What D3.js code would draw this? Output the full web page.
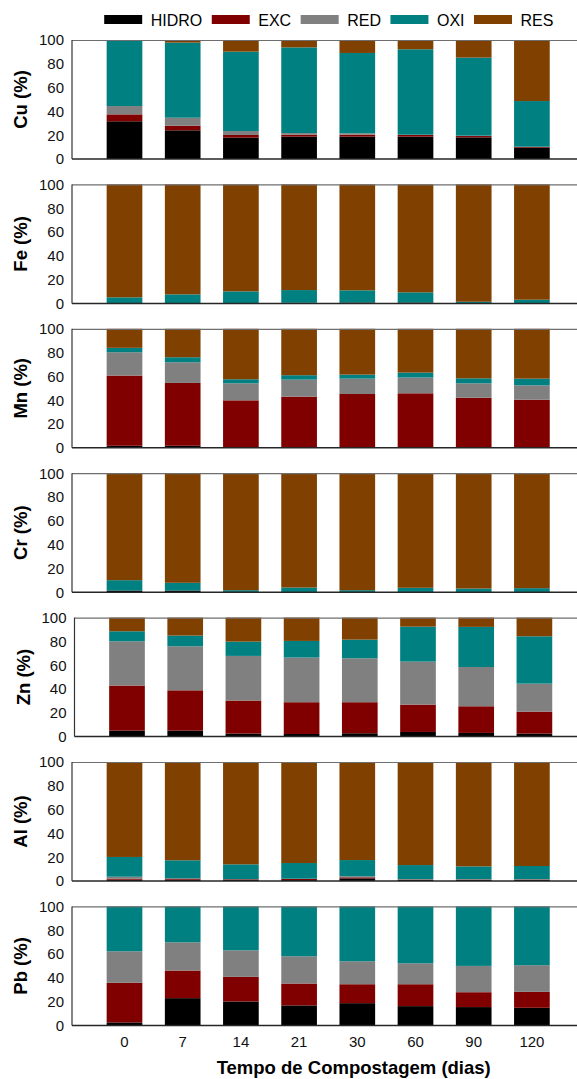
<!DOCTYPE html>
<html>
<head>
<meta charset="utf-8">
<script src="https://cdn.jsdelivr.net/npm/d3@7/dist/d3.min.js"></script>
<style>
  html, body { margin: 0; padding: 0; background: #fff; }
  svg { display: block; font-family: 'Liberation Sans', Arial, sans-serif; }
</style>
</head>
<body>
<div id="chart"></div>
<script>
// composting days on the x axis
var categories = ['0', '7', '14', '21', '30', '60', '90', '120'];
var fractions = ['HIDRO', 'EXC', 'RED', 'OXI', 'RES'];
var fractionColors = ['#000000', '#800000', '#808080', '#008080', '#804000'];
var yTicks = [0, 20, 40, 60, 80, 100];
var metals = ['Cu', 'Fe', 'Mn', 'Cr', 'Zn', 'Al', 'Pb'];

// % of each fraction, per day
var cu = {
  HIDRO: [31.7, 24.1, 17.9, 18.8, 18.8, 18.8, 18.2, 9.5],
  EXC:   [5.8, 3.9, 2.3, 1.6, 1.6, 1.4, 1.1, 0.6],
  RED:   [7.0, 6.7, 3.3, 1.4, 1.2, 0.2, 0.3, 0.2],
  OXI:   [55.5, 63.1, 66.7, 72.0, 67.5, 71.8, 65.6, 38.4],
  RES:   [0.0, 2.2, 9.8, 6.2, 10.9, 7.8, 14.8, 51.3]
};
var fe = {
  HIDRO: [0.3, 0.2, 0.2, 0.5, 0.8, 0.8, 0.2, 0.2],
  EXC:   [0, 0, 0, 0, 0, 0, 0, 0],
  RED:   [0, 0, 0, 0, 0, 0, 0, 0],
  OXI:   [4.8, 7.4, 9.9, 10.7, 10.2, 8.5, 1.2, 2.9],
  RES:   [94.9, 92.4, 89.9, 88.8, 89.0, 90.7, 98.6, 96.9]
};
var mn = {
  HIDRO: [1.7, 1.7, 0.3, 0.3, 0.3, 0.3, 0.3, 0.3],
  EXC:   [59.0, 52.8, 39.6, 42.7, 44.9, 45.5, 41.8, 40.1],
  RED:   [19.6, 17.4, 14.3, 14.3, 12.9, 13.2, 12.1, 12.1],
  OXI:   [3.7, 4.2, 3.4, 3.7, 3.4, 4.2, 4.2, 5.6],
  RES:   [16.0, 23.9, 42.4, 39.0, 38.5, 36.8, 41.6, 41.9]
};
var cr = {
  HIDRO: [1.4, 1.4, 0.2, 0.2, 0.2, 0.2, 0.2, 0.2],
  EXC:   [0, 0, 0, 0, 0, 0, 0, 0],
  RED:   [0, 0, 0, 0, 0, 0, 0, 0],
  OXI:   [8.7, 6.5, 1.5, 3.7, 1.5, 3.5, 2.9, 3.2],
  RES:   [89.9, 92.1, 98.3, 96.1, 98.3, 96.3, 96.9, 96.6]
};
var zn = {
  HIDRO: [5.0, 5.0, 2.5, 2.2, 2.8, 3.9, 3.1, 2.5],
  EXC:   [37.9, 33.9, 27.8, 26.7, 26.1, 23.0, 22.4, 18.5],
  RED:   [37.2, 37.0, 37.5, 37.5, 36.9, 36.1, 33.0, 23.5],
  OXI:   [8.4, 9.0, 12.0, 14.0, 15.7, 29.4, 33.7, 39.8],
  RES:   [11.5, 15.1, 20.2, 19.6, 18.5, 7.6, 7.8, 15.7]
};
var al = {
  HIDRO: [1.1, 1.1, 0.8, 0.8, 2.2, 0.8, 0.8, 0.8],
  EXC:   [0.9, 0.9, 0.6, 0.9, 0.9, 0.4, 0.4, 0.4],
  RED:   [1.6, 0.2, 0.2, 0.2, 0.9, 0.4, 0.4, 0.4],
  OXI:   [16.6, 15.2, 12.4, 13.2, 13.6, 11.8, 10.7, 11.0],
  RES:   [79.8, 82.6, 86.0, 84.9, 82.4, 86.6, 87.7, 87.4]
};
var pb = {
  HIDRO: [2.5, 22.9, 20.1, 16.8, 18.7, 16.2, 15.4, 14.8],
  EXC:   [33.3, 23.2, 20.7, 18.4, 15.9, 18.4, 12.5, 13.4],
  RED:   [26.5, 23.7, 22.3, 22.9, 19.3, 17.6, 22.1, 22.4],
  OXI:   [37.7, 30.2, 36.9, 41.9, 46.1, 47.8, 50.0, 49.4],
  RES:   [0, 0, 0, 0, 0, 0, 0, 0]
};
var metalData = [cu, fe, mn, cr, zn, al, pb];

var visW = 577, visH = 1079;
var axisX = 72;
var firstTop = 40, panelPitch = 144.4, panelH = 119;
// the Zn panel sits a little to the right in the original
var panelShift = [0, 0, 0, 0, 2.5, 0, 0];

var vis = d3.select('#chart')
  .append('svg')
  .attr('width', visW)
  .attr('height', visH);

var x = d3.scaleBand()
  .domain(categories)
  .range([95.4, 561])
  .paddingInner(0.387)
  .paddingOuter(0.1935);

var y = d3.scaleLinear().domain([0, 100]).range([panelH, 0]);

var color = d3.scaleOrdinal().domain(fractions).range(fractionColors);

/* Legend */

var legend = vis.append('g').attr('class', 'legend');
var lx = 104.2;
fractions.forEach(function(f) {
  legend.append('rect')
    .attr('x', lx)
    .attr('y', 15)
    .attr('width', 38)
    .attr('height', 9)
    .style('fill', color(f));
  var t = legend.append('text')
    .attr('x', lx + 38 + 8.5)
    .attr('y', 25.5)
    .attr('font-size', 16)
    .style('fill', '#000')
    .text(f);
  lx += 38 + 8.5 + t.node().getComputedTextLength() + 9.5;
});

/* Panels */

metals.forEach(function(metal, i) {
  var data = metalData[i];
  var rows = categories.map(function(c, j) {
    var row = { cat: c };
    fractions.forEach(function(f) { row[f] = data[f][j]; });
    return row;
  });
  var series = d3.stack().keys(fractions)(rows);

  var top = firstTop + i * panelPitch;
  var g = vis.append('g')
    .attr('transform', 'translate(' + panelShift[i] + ',' + top + ')');

  g.selectAll('g.series')
    .data(series)
    .enter().append('g')
    .attr('class', 'series')
    .style('fill', function(d) { return color(d.key); })
    .selectAll('rect')
    .data(function(d) { return d; })
    .enter().append('rect')
    .attr('x', function(d) { return x(d.data.cat); })
    .attr('y', function(d) { return y(d[1]); })
    .attr('width', x.bandwidth())
    .attr('height', function(d) { return Math.max(0, y(d[0]) - y(d[1])); });

  // frame: grey top, dark left and bottom
  g.append('line')
    .attr('x1', axisX).attr('x2', visW)
    .attr('y1', y(100) + 0.5).attr('y2', y(100) + 0.5)
    .style('stroke', '#6e6e6e').style('stroke-width', 1.2);
  g.append('line')
    .attr('x1', axisX).attr('x2', visW)
    .attr('y1', y(0)).attr('y2', y(0))
    .style('stroke', '#262626').style('stroke-width', 1.5);
  g.append('line')
    .attr('x1', axisX).attr('x2', axisX)
    .attr('y1', y(100)).attr('y2', y(0))
    .style('stroke', '#333').style('stroke-width', 1.2);

  var yAxis = g.append('g')
    .attr('transform', 'translate(' + axisX + ',0)')
    .call(d3.axisLeft(y).tickValues(yTicks).tickSize(0).tickPadding(8));
  yAxis.select('.domain').remove();
  yAxis.selectAll('text')
    .attr('font-size', 15)
    .attr('font-family', "'Liberation Sans', Arial, sans-serif")
    .style('fill', '#111');

  g.append('text')
    .attr('transform', 'translate(21,' + (panelH / 2) + ') rotate(-90)')
    .attr('text-anchor', 'middle')
    .attr('dy', '0.35em')
    .attr('font-size', 18.5)
    .attr('font-weight', 'bold')
    .style('fill', '#000')
    .text(metal + ' (%)');

  if (i === metals.length - 1) {
    var xAxis = g.append('g')
      .attr('transform', 'translate(0,' + panelH + ')')
      .call(d3.axisBottom(x).tickSize(0).tickPadding(11));
    xAxis.select('.domain').remove();
    xAxis.selectAll('text')
      .attr('font-size', 15)
      .attr('font-family', "'Liberation Sans', Arial, sans-serif")
      .style('fill', '#111');
  }
});

vis.append('text')
  .attr('x', 353.7)
  .attr('y', 1074)
  .attr('text-anchor', 'middle')
  .attr('font-size', 18.5)
  .attr('font-weight', 'bold')
  .style('fill', '#000')
  .text('Tempo de Compostagem (dias)');
</script>
</body>
</html>
